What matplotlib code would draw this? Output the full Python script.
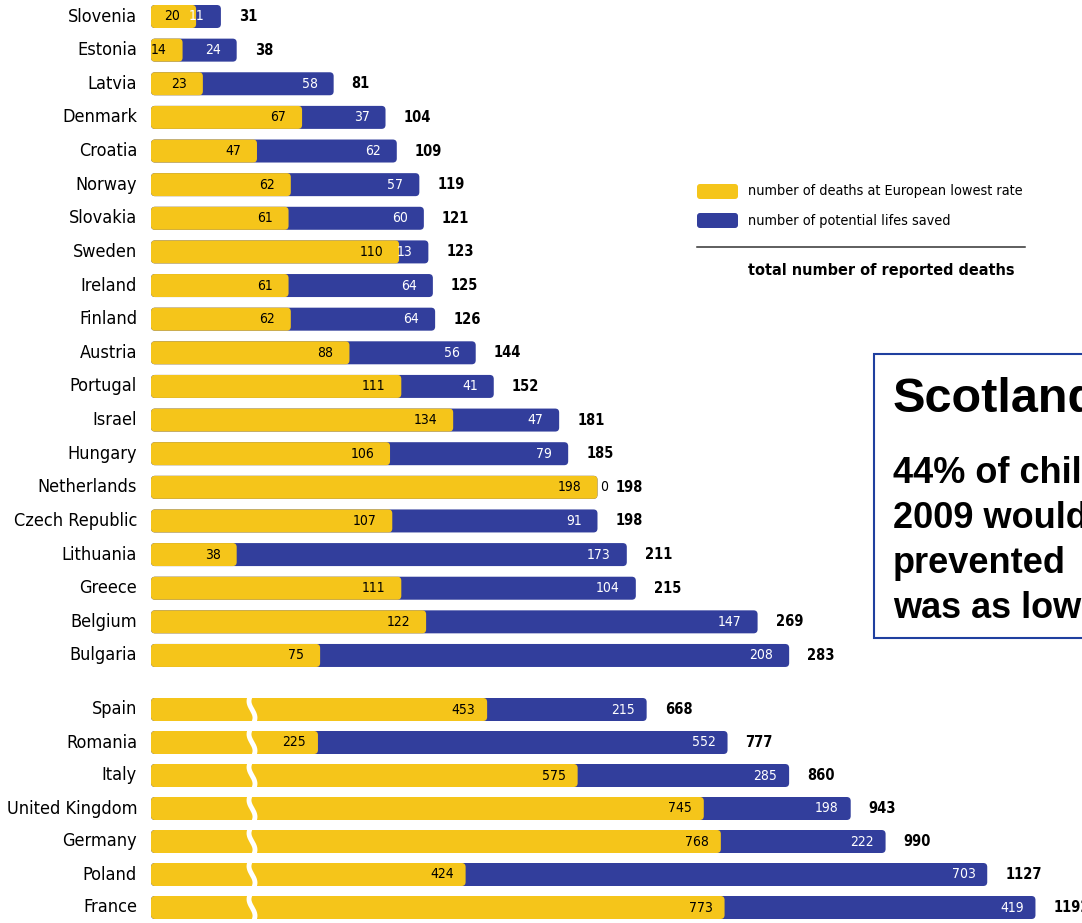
import matplotlib
matplotlib.use("Agg")
import matplotlib.pyplot as plt
from matplotlib.patches import FancyBboxPatch, Rectangle
import numpy as np

# dane: zgony przy najniższej europejskiej stopie + potencjalnie uratowane
countries_top = ["Slovenia", "Estonia", "Latvia", "Denmark", "Croatia", "Norway",
                 "Slovakia", "Sweden", "Ireland", "Finland", "Austria", "Portugal",
                 "Israel", "Hungary", "Netherlands", "Czech Republic", "Lithuania",
                 "Greece", "Belgium", "Bulgaria"]
lowest_top = [20, 14, 23, 67, 47, 62, 61, 110, 61, 62, 88, 111, 134, 106, 198, 107,
              38, 111, 122, 75]
saved_top = [11, 24, 58, 37, 62, 57, 60, 13, 64, 64, 56, 41, 47, 79, 0, 91, 173,
             104, 147, 208]

countries_bot = ["Spain", "Romania", "Italy", "United Kingdom", "Germany", "Poland",
                 "France"]
lowest_bot = [453, 225, 575, 745, 768, 424, 773]
saved_bot = [215, 552, 285, 198, 222, 703, 419]

legend_labels = ["number of deaths at European lowest rate",
                 "number of potential lifes saved"]
total_label = "total number of reported deaths"

YELLOW = "#F5C51A"
BLUE = "#323E9C"
NARROW = dict(family=["DejaVu Sans"], fontstretch="condensed")
ARIAL = ["Liberation Sans", "DejaVu Sans"]

W, H = 1082, 923
fig = plt.figure(figsize=(W / 100, H / 100), dpi=100)
fig.patch.set_facecolor("white")


def rbar(ax, x0, width, y, h, color, aspect, r):
    p = FancyBboxPatch((x0, y - h / 2), width, h,
                       boxstyle="round,pad=0,rounding_size=%f" % r,
                       mutation_aspect=aspect, facecolor=color, edgecolor="none")
    ax.add_patch(p)


def draw_group(ax, countries, lowest, saved, px_per_unit, pitch, in_off, out_off):
    r = 4.0 / px_per_unit
    aspect = px_per_unit / pitch
    h = 23.0 / pitch
    for i, (c, a, b) in enumerate(zip(countries, lowest, saved)):
        tot = a + b
        rbar(ax, 0, tot, i, h, BLUE, aspect, r)
        rbar(ax, 0, a, i, h, YELLOW, aspect, r)
        ax.annotate(c, (0, i), xytext=(-10, 0), textcoords="offset points",
                    ha="right", va="center", fontsize=13, annotation_clip=False,
                    **NARROW)
        ax.annotate(str(a), (a, i), xytext=(-in_off, 0), textcoords="offset points",
                    ha="right", va="center", fontsize=10, color="black",
                    annotation_clip=False, **NARROW)
        if b > 0:
            ax.annotate(str(b), (tot, i), xytext=(-in_off, 0), textcoords="offset points",
                        ha="right", va="center", fontsize=10, color="white",
                        annotation_clip=False, **NARROW)
        else:
            ax.annotate(str(b), (tot, i), xytext=(2, 0), textcoords="offset points",
                        ha="left", va="center", fontsize=10, color="black",
                        annotation_clip=False, **NARROW)
        ax.annotate(str(tot), (tot, i), xytext=(out_off, 0), textcoords="offset points",
                    ha="left", va="center", fontsize=10.5, fontweight="bold",
                    annotation_clip=False, **NARROW)
    ax.axis("off")


# górna grupa
sx_top, pitch_top, y0_top = 2.255, 33.63, 16.5
ax1 = fig.add_axes([151 / W, 1 - 672 / H, (W - 151) / W, 672 / H])
ax1.set_xlim(0, (W - 151) / sx_top)
ax1.set_ylim((672 - y0_top) / pitch_top, -y0_top / pitch_top)
draw_group(ax1, countries_top, lowest_top, saved_top, sx_top, pitch_top, 11.5, 13)

# dolna grupa (inna skala)
sx_bot, pitch_bot, y0_bot = 0.742, 33.0, 709.5
ax2 = fig.add_axes([151 / W, 0, (W - 151) / W, (H - 688) / H])
ax2.set_xlim(0, (W - 151) / sx_bot)
ax2.set_ylim((H - y0_bot) / pitch_bot, (688 - y0_bot) / pitch_bot)
draw_group(ax2, countries_bot, lowest_bot, saved_bot, sx_bot, pitch_bot, 8.5, 13)

# przerwanie osi - biała fala
yy = np.linspace(-0.7, 6.6, 400)
xx = (252 - 151) / sx_bot + (3 / sx_bot) * np.sin(2 * np.pi * yy)
ax2.plot(xx, yy, color="white", lw=3.5, solid_capstyle="butt")

# warstwa z legendą i ramką
ov = fig.add_axes([0, 0, 1, 1])
ov.set_xlim(0, W)
ov.set_ylim(H, 0)
ov.axis("off")

for yc, col, lab in [(191.5, YELLOW, legend_labels[0]), (220.5, BLUE, legend_labels[1])]:
    ov.add_patch(FancyBboxPatch((697, yc - 7.5), 41, 15,
                                boxstyle="round,pad=0,rounding_size=3",
                                facecolor=col, edgecolor="none"))
    ov.text(748, yc, lab, ha="left", va="center", fontsize=10.4, **NARROW)
ov.plot([697, 1025], [247, 247], color="#333333", lw=1.1)
ov.text(748, 270, total_label, ha="left", va="center", fontsize=11.6,
        fontweight="bold", **NARROW)

ov.add_patch(Rectangle((874, 354), 300, 284, facecolor="white",
                       edgecolor="#1f3f9f", lw=1.5))
ov.text(893, 412, "Scotland", ha="left", va="baseline", fontsize=35,
        family=ARIAL, fontweight="bold")
for yb, line in zip([483, 528, 573, 618],
                    ["44% of children", "2009 would", "prevented", "was as low"]):
    ov.text(893, yb, line, ha="left", va="baseline", fontsize=26,
            family=ARIAL, fontweight="bold")

fig.savefig("out.png", dpi=100)
